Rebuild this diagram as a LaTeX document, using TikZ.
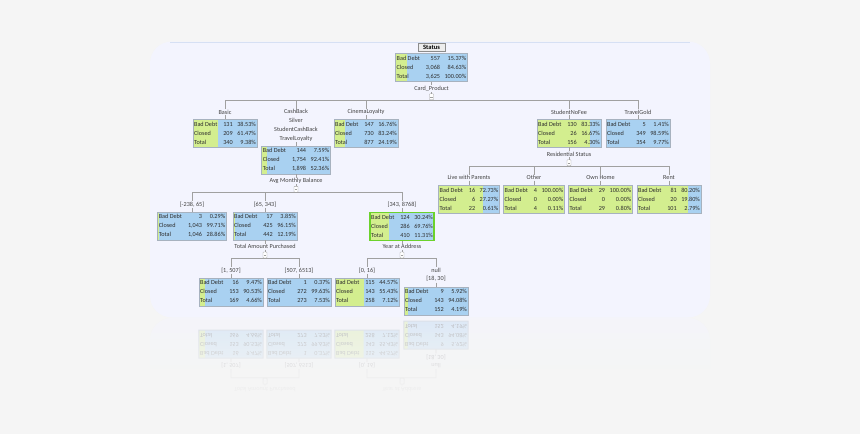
\documentclass[tikz,border=0pt]{standalone}
\usepackage{fontspec}
\setmainfont{Carlito}
\usetikzlibrary{calc,fadings}

\definecolor{pagebg}{HTML}{F5F5F5}
\definecolor{panelbg}{HTML}{F3F4FE}
\definecolor{paneltop}{HTML}{D6E0F4}
\definecolor{baddebt}{HTML}{D3EE8F}
\definecolor{closedblue}{HTML}{A9D1F1}
\definecolor{boxline}{HTML}{A7B2BF}
\definecolor{branchgray}{HTML}{A0A0A0}
\definecolor{hilite}{HTML}{6CD22C}
\definecolor{txt}{HTML}{2E2E2E}

% one table of counts
\newcommand{\counts}[6]{\begin{tabular}{@{}l@{\hspace{6pt}}r@{\hspace{4.5pt}}r@{}}Bad Debt&#1&#2\\Closed&#3&#4\\Total&#5&#6\end{tabular}}

\tikzset{
  stat/.style={draw=boxline, fill=closedblue, inner xsep=1.2pt, inner ysep=0.5pt, anchor=north, text=txt,
    font=\fontsize{6.2}{9}\selectfont,
    path picture={\fill[baddebt] (path picture bounding box.south west) rectangle
      ($(path picture bounding box.north west)!#1!(path picture bounding box.north east)$);}},
  picked/.style={draw=hilite, line width=1.3pt},
  split/.style={font=\fontsize{6.2}{8.9}\selectfont, text=txt!90!white, inner sep=0.6pt},
  leafname/.style={split, align=center},
  branch/.style={draw=branchgray, line width=0.7pt},
  toggle/.style={draw=branchgray, fill=white, rounded corners=0.6pt, minimum width=4pt, minimum height=6pt, inner sep=0pt,
    path picture={\draw[branchgray, line width=0.4pt] ($(path picture bounding box.west)+(0.8pt,0)$) -- ($(path picture bounding box.east)+(-0.8pt,0)$);}},
}

% the two lowest splits (drawn again as the mirror image)
\newcommand{\lowersplits}{%
\node[split] (tap) at (265,246.7) {Total Amount Purchased};
\node[toggle] (tg-tap) at (265,255) {};
\node[split] (n-low) at (231,270.3) {[1, 507]};
\node[split] (n-high) at (299,270.3) {[507, 6513]};
\node[stat=0.0947] (t-low) at (231,277.7) {\counts{16}{9.47\%}{153}{90.53\%}{169}{4.66\%}};
\node[stat=0.0037] (t-high) at (299,277.7) {\counts{1}{0.37\%}{272}{99.63\%}{273}{7.53\%}};
\draw[branch] (tap) -- (tg-tap);
\draw[branch] (n-low) |- (tg-tap.south) -| (n-high);
\draw[branch] (n-low) -- (t-low);
\draw[branch] (n-high) -- (t-high);
\node[split] (yaa) at (402,246.7) {Year at Address};
\node[toggle] (tg-yaa) at (402,255) {};
\node[split] (n-young) at (367,270.3) {[0, 16]};
\node[leafname] (n-null) at (436,274.8) {null\\{}[18, 30]};
\node[stat=0.4457] (t-young) at (367,277.7) {\counts{115}{44.57\%}{143}{55.43\%}{258}{7.12\%}};
\node[stat=0.0592] (t-null) at (436,286.7) {\counts{9}{5.92\%}{143}{94.08\%}{152}{4.19\%}};
\draw[branch] (yaa) -- (tg-yaa);
\draw[branch] (n-young) |- (tg-yaa.south) -| (n-null);
\draw[branch] (n-young) -- (t-young);
\draw[branch] (n-null) -- (t-null);
}

\begin{document}
\begin{tikzpicture}[x=1pt, y=-1pt]
\useasboundingbox (0,0) rectangle (860,434);
\fill[pagebg] (0,0) rectangle (860,434);
% panel and its reflection
\shade[top color=panelbg!60!pagebg, bottom color=pagebg, rounded corners=22pt] (150,318) rectangle (710,405);
\fill[panelbg, rounded corners=22pt] (150,41.5) rectangle (710,317.5);
\draw[paneltop, line width=0.6pt] (170,41.8) -- (690,41.8);

% root
\node[draw=black!45, fill=black!7, font=\fontsize{6.5}{7}\selectfont\bfseries, minimum width=27pt, minimum height=8.6pt, inner sep=1pt] (status) at (431.5,47) {Status};
\node[stat=0.1537] (root) at (431.5,53.3) {\counts{557}{15.37\%}{3,068}{84.63\%}{3,625}{100.00\%}};
\node[split] (card) at (431.5,88.7) {Card\_Product};
\node[toggle] (tg-card) at (431.5,96.7) {};
\draw[branch] (root) -- (card);
\draw[branch] (card) -- (tg-card);

% Card_Product
\node[split] (n-basic) at (225,112) {Basic};
\node[leafname] (n-cash) at (296,125.3) {CashBack\\Silver\\StudentCashBack\\TravelLoyalty};
\node[split] (n-cinema) at (366,112) {CinemaLoyalty};
\node[split] (n-student) at (569,112) {StudentNoFee};
\node[split] (n-travel) at (638,112) {TravelGold};
\node[stat=0.3853] (t-basic) at (225,119) {\counts{131}{38.53\%}{209}{61.47\%}{340}{9.38\%}};
\node[stat=0.0759] (t-cash) at (296,145.7) {\counts{144}{7.59\%}{1,754}{92.41\%}{1,898}{52.36\%}};
\node[stat=0.1676] (t-cinema) at (366,119) {\counts{147}{16.76\%}{730}{83.24\%}{877}{24.19\%}};
\node[stat=0.8333] (t-student) at (569,119) {\counts{130}{83.33\%}{26}{16.67\%}{156}{4.30\%}};
\node[stat=0.0141] (t-travel) at (638,119) {\counts{5}{1.41\%}{349}{98.59\%}{354}{9.77\%}};
\draw[branch] (n-basic) |- (tg-card.south) -| (n-travel);
\foreach \c in {cash,cinema,student} {\draw[branch] (n-\c) -- (n-\c |- tg-card.south);}
\foreach \c in {basic,cash,cinema,student,travel} {\draw[branch] (n-\c) -- (t-\c);}

% Residential Status
\node[split] (res) at (569,154.3) {Residential Status};
\node[toggle] (tg-res) at (569,162.7) {};
\draw[branch] (t-student) -- (res);
\draw[branch] (res) -- (tg-res);
\node[split] (n-parents) at (469,177.7) {Live with Parents};
\node[split] (n-other) at (534,177.7) {Other};
\node[split] (n-own) at (600.5,177.7) {Own Home};
\node[split] (n-rent) at (669,177.7) {Rent};
\node[stat=0.7273] (t-parents) at (469,185) {\counts{16}{72.73\%}{6}{27.27\%}{22}{0.61\%}};
\node[stat=1] (t-other) at (534,185) {\counts{4}{100.00\%}{0}{0.00\%}{4}{0.11\%}};
\node[stat=1] (t-own) at (600.5,185) {\counts{29}{100.00\%}{0}{0.00\%}{29}{0.80\%}};
\node[stat=0.802] (t-rent) at (669,185) {\counts{81}{80.20\%}{20}{19.80\%}{101}{2.79\%}};
\draw[branch] (n-parents) |- (tg-res.south) -| (n-rent);
\foreach \c in {other,own} {\draw[branch] (n-\c) -- (n-\c |- tg-res.south);}
\foreach \c in {parents,other,own,rent} {\draw[branch] (n-\c) -- (t-\c);}

% Avg Monthly Balance
\node[split] (amb) at (296,181) {Avg Monthly Balance};
\node[toggle] (tg-amb) at (296,189.3) {};
\draw[branch] (t-cash) -- (amb);
\draw[branch] (amb) -- (tg-amb);
\node[split] (n-neg) at (192,204.3) {[-238, 65]};
\node[split] (n-mid) at (265,204.3) {[65, 343]};
\node[split] (n-top) at (402,204.3) {[343, 8768]};
\node[stat=0.0029] (t-neg) at (192,211.7) {\counts{3}{0.29\%}{1,043}{99.71\%}{1,046}{28.86\%}};
\node[stat=0.0385] (t-mid) at (265,211.7) {\counts{17}{3.85\%}{425}{96.15\%}{442}{12.19\%}};
\node[stat=0.3024, picked] (t-top) at (402,211.7) {\counts{124}{30.24\%}{286}{69.76\%}{410}{11.31\%}};
\draw[branch] (n-neg) |- (tg-amb.south) -| (n-top);
\draw[branch] (n-mid) -- (n-mid |- tg-amb.south);
\foreach \c in {neg,mid,top} {\draw[branch] (n-\c) -- (t-\c);}

% Total Amount Purchased, Year at Address
\lowersplits
\draw[branch] (t-mid) -- (tap);
\draw[branch] (t-top) -- (yaa);

% mirror image under the panel, fading out downwards
\begin{scope}[shift={(0,636)}, yscale=-1, transform shape, transparency group, opacity=0.3]
\lowersplits
\end{scope}
\fill[pagebg, path fading=north] (150,318.5) rectangle (712,400);
\end{tikzpicture}
\end{document}
